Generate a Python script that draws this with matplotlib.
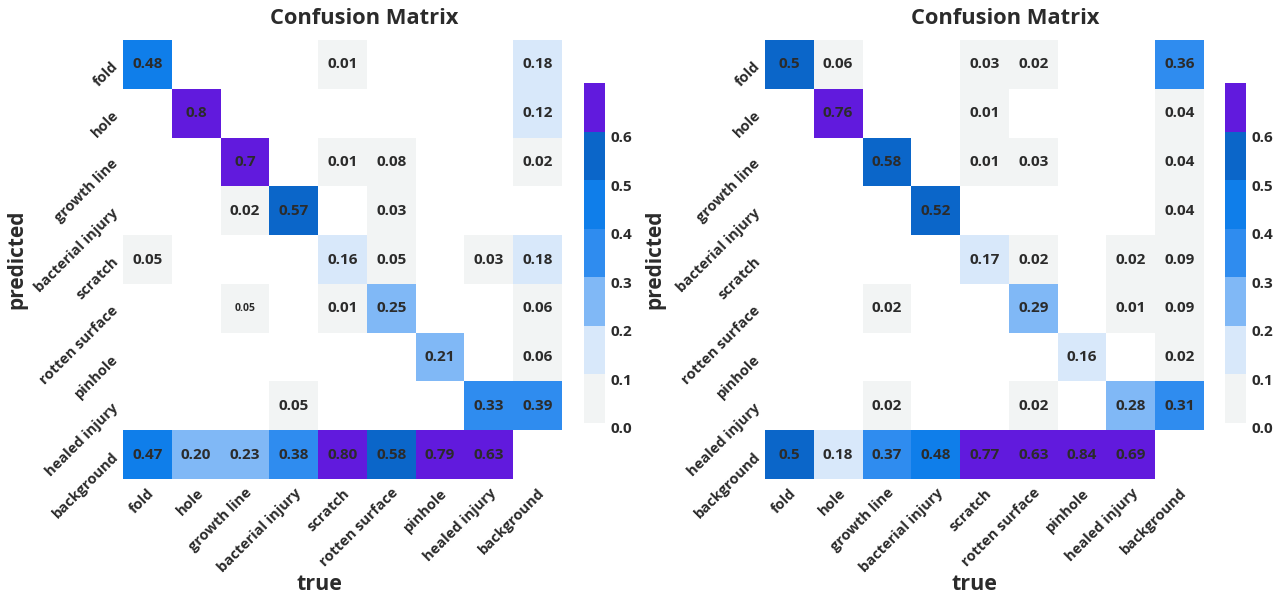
import numpy as np
import matplotlib
matplotlib.use("Agg")
import matplotlib.pyplot as plt
from matplotlib.colors import ListedColormap, Normalize
from matplotlib.transforms import ScaledTranslation

plt.rcParams['font.family'] = ['Open Sans', 'DejaVu Sans']

classes = ["fold", "hole", "growth line", "bacterial injury", "scratch",
           "rotten surface", "pinhole", "healed injury", "background"]

# rows: predicted, columns: true; empty string = no entry
left_cells = [
    ["0.48", "", "", "", "0.01", "", "", "", "0.18"],
    ["", "0.8", "", "", "", "", "", "", "0.12"],
    ["", "", "0.7", "", "0.01", "0.08", "", "", "0.02"],
    ["", "", "0.02", "0.57", "", "0.03", "", "", ""],
    ["0.05", "", "", "", "0.16", "0.05", "", "0.03", "0.18"],
    ["", "", "0.05", "", "0.01", "0.25", "", "", "0.06"],
    ["", "", "", "", "", "", "0.21", "", "0.06"],
    ["", "", "", "0.05", "", "", "", "0.33", "0.39"],
    ["0.47", "0.20", "0.23", "0.38", "0.80", "0.58", "0.79", "0.63", ""],
]

right_cells = [
    ["0.5", "0.06", "", "", "0.03", "0.02", "", "", "0.36"],
    ["", "0.76", "", "", "0.01", "", "", "", "0.04"],
    ["", "", "0.58", "", "0.01", "0.03", "", "", "0.04"],
    ["", "", "", "0.52", "", "", "", "", "0.04"],
    ["", "", "", "", "0.17", "0.02", "", "0.02", "0.09"],
    ["", "", "0.02", "", "", "0.29", "", "0.01", "0.09"],
    ["", "", "", "", "", "", "0.16", "", "0.02"],
    ["", "", "0.02", "", "", "0.02", "", "0.28", "0.31"],
    ["0.5", "0.18", "0.37", "0.48", "0.77", "0.63", "0.84", "0.69", ""],
]

# annotations printed in a smaller size
left_small = {(5, 2)}

cbar_ticks = [0.0, 0.1, 0.2, 0.3, 0.4, 0.5, 0.6]

band_colors = ["#f2f4f4", "#d8e8fa", "#80b8f6", "#2f8cef",
               "#0f7eea", "#0b66c9", "#611add"]
cmap = ListedColormap(band_colors)
cmap.set_bad((1, 1, 1, 0))
cmap.set_over(band_colors[-1])
norm = Normalize(vmin=0.0, vmax=0.7)

W, H = 1287, 599
fig = plt.figure(figsize=(W / 100, H / 100), dpi=100)
TEXT = "#2b2b2b"


def draw_panel(cells, small, hm_x, cb_x, ylab_x, xlab_x):
    vals = np.array([[float(s) if s else np.nan for s in row] for row in cells])
    data = np.ma.masked_invalid(vals)

    ax = fig.add_axes([hm_x / W, 1 - 479 / H, 439 / W, 439 / H])
    mesh = ax.pcolormesh(np.arange(10), np.arange(10), data, cmap=cmap, norm=norm)
    ax.set_xlim(0, 9)
    ax.set_ylim(9, 0)
    for sp in ax.spines.values():
        sp.set_visible(False)

    n = len(classes)
    for i in range(n):
        for j in range(n):
            s = cells[i][j]
            if not s:
                continue
            fs = 7.5 if (i, j) in small else 11
            ax.text(j + 0.5, i + 0.5, s, ha="center", va="center",
                    fontsize=fs, fontweight="bold", color=TEXT)

    ax.set_xticks(np.arange(n) + 0.5)
    ax.set_yticks(np.arange(n) + 0.5)
    ax.set_xticklabels(classes, rotation=45, ha="right", rotation_mode="anchor",
                       fontsize=10.5, fontweight="bold", color=TEXT)
    ax.set_yticklabels(classes, rotation=45, ha="right", va="center",
                       rotation_mode="anchor",
                       fontsize=10.5, fontweight="bold", color=TEXT)
    ax.tick_params(length=0, pad=5)

    ax.set_xlabel("true", fontsize=15.5, fontweight="bold", color=TEXT)
    ax.xaxis.set_label_coords((xlab_x - hm_x) / 439, (479 - 574) / 439)
    ax.set_ylabel("predicted", fontsize=15, fontweight="bold", color=TEXT)
    ax.yaxis.set_label_coords((ylab_x - hm_x) / 439, 0.5)

    cax = fig.add_axes([cb_x / W, 1 - 423 / H, 21 / W, 340 / H])
    cb = fig.colorbar(mesh, cax=cax, ticks=cbar_ticks)
    cb.outline.set_visible(False)
    cax.tick_params(length=0, pad=4)
    cax.set_yticklabels([f"{t:.1f}" for t in cbar_ticks],
                        fontsize=11, fontweight="bold", color=TEXT)
    shift = ScaledTranslation(0, -3.5 / 72, fig.dpi_scale_trans)
    for lab in cax.get_yticklabels():
        lab.set_transform(lab.get_transform() + shift)

    fig.text((hm_x + cb_x + 21) / 2 / W, 1 - 19 / H, "Confusion Matrix",
             ha="center", va="center", fontsize=15.75, fontweight="bold",
             color=TEXT)


draw_panel(left_cells, left_small, 123, 584, 27, 319)
draw_panel(right_cells, set(), 765, 1225, 665, 974)

fig.savefig("out.png", dpi=100, facecolor="white")
